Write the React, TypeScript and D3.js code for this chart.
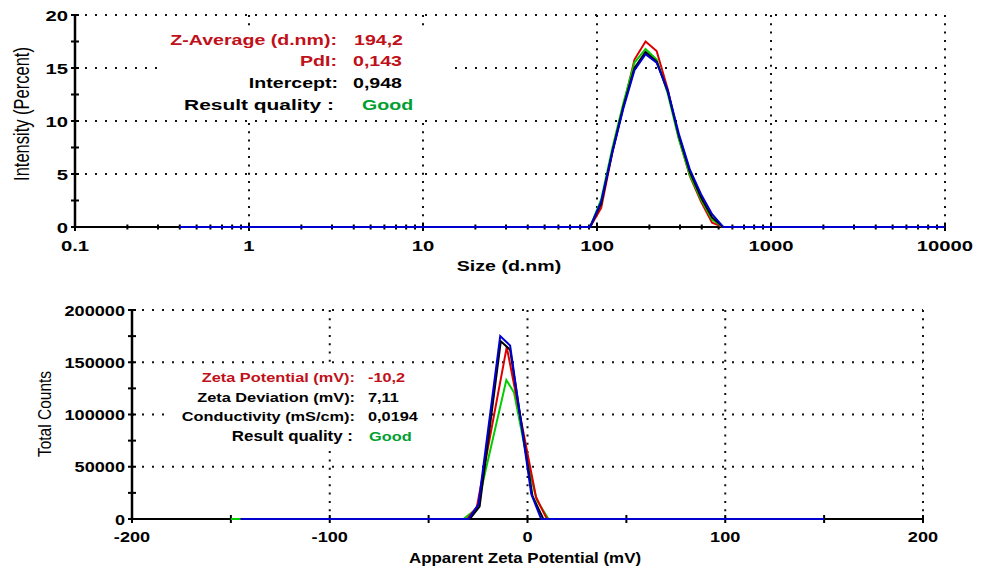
import React from "react";
import * as d3 from "d3";

// ---------- Size distribution (top) ----------
const sizeBins = [
  0.4, 0.4632, 0.5365, 0.6213, 0.7195, 0.8332, 0.9649, 1.117, 1.294, 1.499,
  1.736, 2.01, 2.328, 2.696, 3.122, 3.615, 4.187, 4.849, 5.615, 6.503,
  7.531, 8.721, 10.1, 11.7, 13.54, 15.69, 18.17, 21.04, 24.36, 28.21,
  32.67, 37.84, 43.82, 50.75, 58.77, 68.06, 78.82, 91.28, 105.7, 122.4,
  141.8, 164.2, 190.1, 220.2, 255.0, 295.3, 342.0, 396.1, 458.7, 531.2,
  615.1, 712.4, 825.0, 955.4, 1106, 1281, 1484, 1718, 1990, 2305,
  2669, 3091, 3580, 4145, 4801, 5560, 6439, 7456, 8635, 10000,
];
const redIntensity = [
  0, 0, 0, 0, 0, 0, 0, 0, 0, 0, 0, 0, 0, 0, 0, 0, 0, 0, 0, 0,
  0, 0, 0, 0, 0, 0, 0, 0, 0, 0, 0, 0, 0, 0, 0, 0, 0, 0,
  1.8, 7.0, 11.4, 15.8, 17.5, 16.6, 13.0, 8.4, 4.8, 2.4, 0.4,
  0, 0, 0, 0, 0, 0, 0, 0, 0, 0, 0, 0, 0, 0, 0, 0, 0, 0, 0, 0, 0,
];
const greenIntensity = [
  0, 0, 0, 0, 0, 0, 0, 0, 0, 0, 0, 0, 0, 0, 0, 0, 0, 0, 0, 0,
  0, 0, 0, 0, 0, 0, 0, 0, 0, 0, 0, 0, 0, 0, 0, 0, 0, 0,
  2.6, 7.4, 11.7, 15.5, 16.8, 15.8, 12.6, 8.3, 4.9, 2.6, 0.7,
  0, 0, 0, 0, 0, 0, 0, 0, 0, 0, 0, 0, 0, 0, 0, 0, 0, 0, 0, 0, 0,
];
const blackIntensity = [
  0, 0, 0, 0, 0, 0, 0, 0, 0, 0, 0, 0, 0, 0, 0, 0, 0, 0, 0, 0,
  0, 0, 0, 0, 0, 0, 0, 0, 0, 0, 0, 0, 0, 0, 0, 0, 0, 0,
  2.2, 7.1, 11.4, 15.0, 16.5, 15.6, 12.8, 8.6, 5.2, 2.8, 0.9,
  0, 0, 0, 0, 0, 0, 0, 0, 0, 0, 0, 0, 0, 0, 0, 0, 0, 0, 0, 0, 0,
];
const blueIntensity = [
  0, 0, 0, 0, 0, 0, 0, 0, 0, 0, 0, 0, 0, 0, 0, 0, 0, 0, 0, 0,
  0, 0, 0, 0, 0, 0, 0, 0, 0, 0, 0, 0, 0, 0, 0, 0, 0, 0,
  2.4, 7.0, 11.2, 14.8, 16.3, 15.5, 12.9, 8.8, 5.4, 3.1, 1.2,
  0, 0, 0, 0, 0, 0, 0, 0, 0, 0, 0, 0, 0, 0, 0, 0, 0, 0, 0, 0, 0,
];
const sizeTickValues = [0.1, 1, 10, 100, 1000, 10000];
const sizeTickLabels = ["0.1", "1", "10", "100", "1000", "10000"];
const intensityTicks = [0, 5, 10, 15, 20];
const intensityMinorTicks = [2.5, 7.5, 12.5, 17.5];

// ---------- Zeta potential (bottom) ----------
const greenZetaMv = [-150, -32.4, -25.6, -10.7, -6.8, 0.5, 4.7, 10.6, 150];
const greenCounts = [0, 0, 10000, 133000, 121000, 50000, 18000, 0, 0];
const redZetaMv = [-145, -30.5, -25.6, -10.5, 4.3, 9.8, 150];
const redCounts = [0, 0, 11500, 164500, 21000, 0, 0];
const blackZetaMv = [-145, -29.2, -24.2, -13.5, -8.8, 2.5, 8.0, 150];
const blackCounts = [0, 0, 12000, 170000, 162000, 22000, 0, 0];
const blueZetaMv = [-145, -29.8, -24.8, -13.8, -8.8, 1.9, 6.9, 150];
const blueCounts = [0, 0, 14000, 175000, 166000, 24000, 0, 0];
const zetaTicks = [-200, -100, 0, 100, 200];
const zetaMinorTicks = [-150, -50, 50, 150];
const countTicks = [0, 50000, 100000, 150000, 200000];
const countMinorTicks = [25000, 75000, 125000, 175000];

const FONT = "'Liberation Sans', Arial, Helvetica, sans-serif";
const RED_TXT = "#c0101a";
const GREEN_TXT = "#00a030";

const ST = 1.35; // horizontal text stretch (top)
const SB = 1.21; // horizontal text stretch (bottom)

function T(props: any) {
  const { x, y, sx, anchor = "start", size = 14, weight = "bold", fill = "#000", children } = props;
  return (
    <text
      transform={`translate(${x},${y}) scale(${sx},1)`}
      textAnchor={anchor}
      fontFamily={FONT}
      fontSize={size}
      fontWeight={weight}
      fill={fill}
    >
      {children}
    </text>
  );
}

function RT(props: any) {
  const { x, y, sx, size = 14, weight = "normal", children } = props;
  return (
    <text
      transform={`translate(${x},${y}) rotate(-90) scale(1,${sx})`}
      textAnchor="middle"
      fontFamily={FONT}
      fontSize={size}
      fontWeight={weight}
      fill="#000"
    >
      {children}
    </text>
  );
}

export default function App() {
  // top scales
  const xT = d3.scaleLog().domain([0.1, 10000]).range([75, 945]);
  const yT = d3.scaleLinear().domain([0, 20]).range([227, 15]);
  // bottom scales
  const xB = d3.scaleLinear().domain([-200, 200]).range([132, 923]);
  const yB = d3.scaleLinear().domain([0, 200000]).range([519, 310]);

  const lineT = (vals: number[]) =>
    d3
      .line<number>()
      .x((_, i) => xT(sizeBins[i]))
      .y((v) => yT(v))(vals) as string;
  const lineB = (xs: number[], ys: number[]) =>
    d3
      .line<number>()
      .x((v) => xB(v))
      .y((_, i) => yB(ys[i]))(xs) as string;

  const allSizeTicks = xT.ticks();
  const sizeMinor = allSizeTicks.filter(
    (t) => Math.abs(Math.log10(t) - Math.round(Math.log10(t))) > 1e-6
  );

  const dotH = { stroke: "#111", strokeWidth: 2, strokeDasharray: "2 8" };
  const dotV = { stroke: "#111", strokeWidth: 2, strokeDasharray: "2 6.3" };

  const [x0T, x1T] = xT.range();
  const [y0T, y1T] = yT.range();
  const [x0B, x1B] = xB.range();
  const [y0B, y1B] = yB.range();

  return (
    <svg
      width={986}
      height={569}
      style={{ position: "absolute", left: 0, top: 0, background: "#fff" }}
    >
      <rect x={0} y={0} width={986} height={569} fill="#fff" />

      {/* ======== TOP CHART ======== */}
      {intensityTicks.slice(1).map((t) => (
        <line key={"gh" + t} x1={x0T} x2={x1T} y1={yT(t)} y2={yT(t)} {...dotH} />
      ))}
      {sizeTickValues.slice(1).map((t) => (
        <line key={"gv" + t} x1={xT(t)} x2={xT(t)} y1={y1T} y2={y0T} {...dotV} />
      ))}
      {/* info box */}
      <rect x={157} y={31} width={290} height={87} fill="#fff" />
      <T x={337} y={45} sx={ST} size={14.5} anchor="end" fill={RED_TXT}>Z-Average (d.nm):</T>
      <T x={354} y={45} sx={ST} size={14.5} fill={RED_TXT}>194,2</T>
      <T x={337} y={66} sx={ST} size={14.5} anchor="end" fill={RED_TXT}>PdI:</T>
      <T x={353} y={66} sx={ST} size={14.5} fill={RED_TXT}>0,143</T>
      <T x={338} y={88} sx={ST} size={14.5} anchor="end">Intercept:</T>
      <T x={353} y={88} sx={ST} size={14.5}>0,948</T>
      <T x={334} y={110} sx={ST} size={15.5} anchor="end">Result quality :</T>
      <T x={362} y={110} sx={ST} size={14.5} fill={GREEN_TXT}>Good</T>

      {/* axes */}
      <line x1={x0T} x2={x1T} y1={y0T} y2={y0T} stroke="#000" strokeWidth={2} />
      <line x1={x0T} x2={x0T} y1={y1T - 1} y2={y0T + 1} stroke="#000" strokeWidth={2.5} />
      {intensityTicks.concat(intensityMinorTicks).map((t) => (
        <line key={"yt" + t} x1={x0T - 4} x2={x0T + 4} y1={yT(t)} y2={yT(t)} stroke="#000" strokeWidth={2} />
      ))}
      {sizeTickValues.map((t) => (
        <line key={"xt" + t} x1={xT(t)} x2={xT(t)} y1={y0T - 4} y2={y0T + 4} stroke="#000" strokeWidth={2} />
      ))}
      {sizeMinor.map((t) => (
        <line key={"xm" + t} x1={xT(t)} x2={xT(t)} y1={y0T - 2.5} y2={y0T + 2.5} stroke="#000" strokeWidth={2} />
      ))}

      {/* curves */}
      <path d={lineT(redIntensity)} fill="none" stroke="#dd0000" strokeWidth={2} />
      <path d={lineT(greenIntensity)} fill="none" stroke="#00cc00" strokeWidth={2} />
      <path d={lineT(blackIntensity)} fill="none" stroke="#000000" strokeWidth={2} />
      <path d={lineT(blueIntensity)} fill="none" stroke="#0000cc" strokeWidth={2} />

      {/* tick labels */}
      {intensityTicks.map((t) => (
        <T key={"yl" + t} x={68} y={yT(t) + 5.5} sx={ST} size={15} anchor="end">{String(t)}</T>
      ))}
      {sizeTickValues.map((t, i) => (
        <T key={"xl" + t} x={xT(t)} y={251} sx={ST} size={15} anchor="middle">{sizeTickLabels[i]}</T>
      ))}
      <T x={509} y={271} sx={ST} size={14.5} anchor="middle">Size (d.nm)</T>
      <RT x={29} y={114} sx={ST} size={16.5}>Intensity (Percent)</RT>

      {/* ======== BOTTOM CHART ======== */}
      {countTicks.slice(1).map((t) => (
        <line key={"bgh" + t} x1={x0B} x2={x1B} y1={yB(t)} y2={yB(t)} {...dotH} />
      ))}
      {zetaTicks.slice(1).map((t) => (
        <line key={"bgv" + t} x1={xB(t)} x2={xB(t)} y1={y1B} y2={y0B} {...dotV} />
      ))}
      <rect x={167} y={365} width={263} height={85} fill="#fff" />
      <T x={355} y={382} sx={SB} size={13.5} anchor="end" fill={RED_TXT}>Zeta Potential (mV):</T>
      <T x={368} y={382} sx={SB} size={13.5} fill={RED_TXT}>-10,2</T>
      <T x={355} y={402} sx={SB} size={13.5} anchor="end">Zeta Deviation (mV):</T>
      <T x={368} y={402} sx={SB} size={13.5}>7,11</T>
      <T x={355} y={421} sx={SB} size={13.5} anchor="end">Conductivity (mS/cm):</T>
      <T x={368} y={421} sx={SB} size={13.5}>0,0194</T>
      <T x={353} y={441} sx={SB} size={14} anchor="end">Result quality :</T>
      <T x={369} y={441} sx={SB} size={13.5} fill={GREEN_TXT}>Good</T>

      <line x1={x0B} x2={x1B} y1={y0B} y2={y0B} stroke="#000" strokeWidth={2} />
      <line x1={x0B} x2={x0B} y1={y1B - 1} y2={y0B + 1} stroke="#000" strokeWidth={2.5} />
      {countTicks.concat(countMinorTicks).map((t) => (
        <line key={"byt" + t} x1={x0B - 4} x2={x0B + 4} y1={yB(t)} y2={yB(t)} stroke="#000" strokeWidth={2} />
      ))}
      {zetaTicks.concat(zetaMinorTicks).map((t) => (
        <line key={"bxt" + t} x1={xB(t)} x2={xB(t)} y1={y0B - 4} y2={y0B + 4} stroke="#000" strokeWidth={2} />
      ))}

      <path d={lineB(greenZetaMv, greenCounts)} fill="none" stroke="#00cc00" strokeWidth={2} />
      <path d={lineB(redZetaMv, redCounts)} fill="none" stroke="#dd0000" strokeWidth={2} />
      <path d={lineB(blackZetaMv, blackCounts)} fill="none" stroke="#000000" strokeWidth={2} />
      <path d={lineB(blueZetaMv, blueCounts)} fill="none" stroke="#0000cc" strokeWidth={2} />

      {countTicks.map((t) => (
        <T key={"byl" + t} x={125} y={yB(t) + 5.5} sx={SB} size={15} anchor="end">{String(t)}</T>
      ))}
      {zetaTicks.map((t) => (
        <T key={"bxl" + t} x={xB(t)} y={542} sx={SB} size={15} anchor="middle">{String(t)}</T>
      ))}
      <T x={525} y={563} sx={SB} size={14} anchor="middle">Apparent Zeta Potential (mV)</T>
      <RT x={51} y={414} sx={SB} size={15.5}>Total Counts</RT>
    </svg>
  );
}
